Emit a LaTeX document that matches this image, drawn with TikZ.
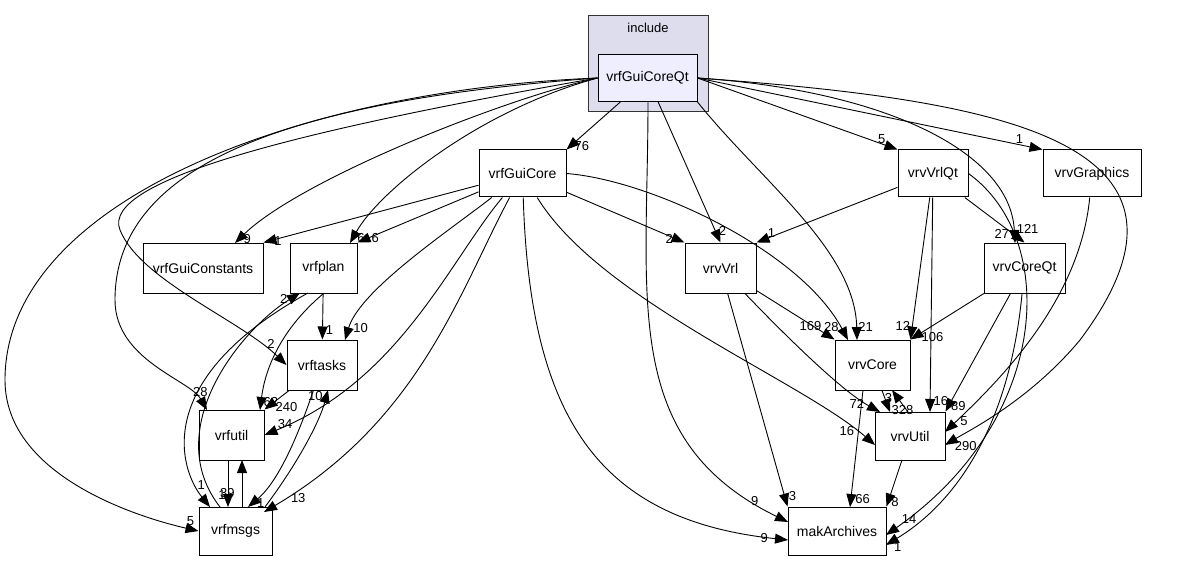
\documentclass[tikz,border=0pt]{standalone}
\usepackage{fontspec}
\setmainfont{Liberation Sans}
\usetikzlibrary{arrows.meta,positioning}
\tikzset{
  dir/.style={draw=black,fill=white,minimum height=47pt,inner sep=3pt,line width=1pt,font=\fontsize{14}{16}\selectfont},
  dep/.style={-{Triangle[length=13pt,width=10pt]},black,line width=0.9pt},
  lab/.style={font=\fontsize{13}{14}\selectfont,inner sep=1pt}
}
\begin{document}
\begin{tikzpicture}[x=1pt,y=-1pt]
\useasboundingbox (0,0) rectangle (1188,588);
% cluster
\draw[fill={rgb,255:red,221;green,221;blue,238},draw=black!80,line width=1pt] (588,16) rectangle (708,112);
\node[font=\fontsize{13}{14}\selectfont] at (648,28) {include};
\node[dir,fill={rgb,255:red,238;green,238;blue,255},minimum width=99pt] (qt) at (647.5,78) {vrfGuiCoreQt};
% nodes
\node[dir,minimum width=87pt] (gui) at (522.5,173.5) {vrfGuiCore};
\node[dir,minimum width=70pt] (vrlqt) at (933,173.5) {vrvVrlQt};
\node[dir,minimum width=98pt] (gfx) at (1092,173.5) {vrvGraphics};
\node[dir,minimum width=120pt,minimum height=50pt] (const) at (203,268) {vrfGuiConstants};
\node[dir,minimum width=67pt,minimum height=50pt] (plan) at (323.5,268) {vrfplan};
\node[dir,minimum width=71pt,minimum height=50pt] (vrl) at (720.5,268) {vrvVrl};
\node[dir,minimum width=81pt,minimum height=50pt] (coreqt) at (1024.5,268) {vrvCoreQt};
\node[dir,minimum width=70pt,minimum height=50pt] (tasks) at (322,365) {vrftasks};
\node[dir,minimum width=75pt,minimum height=50pt] (core) at (872.5,365) {vrvCore};
\node[dir,minimum width=65pt,minimum height=50pt] (util) at (231.5,435) {vrfutil};
\node[dir,minimum width=70pt,minimum height=48pt] (vutil) at (910,436) {vrvUtil};
\node[dir,minimum width=73pt,minimum height=48pt] (msgs) at (235.5,531) {vrfmsgs};
\node[dir,minimum width=98pt,minimum height=48pt] (mak) at (837,531) {makArchives};
% from vrfGuiCoreQt
\draw[dep] (qt) -- (gui.north east) node[lab,pos=0.93,right=3pt] {76};
\draw[dep] (qt.east) -- (vrlqt.north west) node[lab,pos=0.95,above left=1pt] {5};
\draw[dep] (qt.east) -- (gfx.north west) node[lab,pos=0.95,above left=1pt] {1};
\draw[dep] (qt.west) .. controls (500,100) and (300,180) .. (235,243) node[lab,pos=0.98,right=3pt] {9};
\draw[dep] (qt.west) .. controls (480,110) and (380,190) .. (350,243) node[lab,pos=0.97,right=3pt] {6};
\draw[dep] (qt.west) .. controls (300,130) and (100,180) .. (120,230) .. controls (140,280) and (240,320) .. (tasks.west) node[lab,pos=0.9,above=2pt] {2};
\draw[dep] (qt.west) .. controls (300,100) and (115,160) .. (115,300) .. controls (115,360) and (190,380) .. (207,410) node[lab,pos=0.9,above=3pt] {28};
\draw[dep] (qt.west) .. controls (300,90) and (5,200) .. (5,380) .. controls (5,480) and (150,520) .. (msgs.west) node[lab,pos=0.95,above=2pt] {5};
\draw[dep] (qt) -- (vrl.north) node[lab,pos=0.92,right=2pt] {2};
\draw[dep] (qt.south east) .. controls (760,180) and (855,250) .. (857,340) node[lab,pos=0.95,right=1pt] {21};
\draw[dep] (qt.east) .. controls (880,90) and (1010,150) .. (1015,243) node[lab,pos=0.95,right=2pt] {121};
\draw[dep] (qt.east) .. controls (1000,100) and (1230,140) .. (1080,340) .. controls (1030,400) and (970,430) .. (945,445) node[lab,pos=0.9,below right=0pt] {290};
\draw[dep] (648,101) .. controls (648,300) and (620,440) .. (788,522) node[lab,pos=0.94,above left=0pt] {9};
% from vrfGuiCore
\draw[dep] (gui) -- (const.north east) node[lab,pos=0.97,right=3pt] {1};
\draw[dep] (gui) -- (plan.north east) node[lab,pos=0.92,right=3pt] {6};
\draw[dep] (gui) .. controls (450,230) and (360,290) .. (345,340) node[lab,pos=0.92,right=2pt] {10};
\draw[dep] (gui) .. controls (450,260) and (400,380) .. (util.east) node[lab,pos=0.97,above right=0pt] {34};
\draw[dep] (gui) .. controls (460,290) and (420,420) .. (264,512) node[lab,pos=0.95,right=3pt] {13};
\draw[dep] (gui) -- (vrl.north west) node[lab,pos=0.93,left=2pt] {2};
\draw[dep] (gui.east) .. controls (650,180) and (800,250) .. (848,340) node[lab,pos=0.95,left=0pt] {28};
\draw[dep] (gui) .. controls (600,300) and (800,380) .. (875,445) node[lab,pos=0.93,left=2pt] {16};
\draw[dep] (gui) .. controls (530,420) and (600,520) .. (788,540) node[lab,pos=0.97,left=2pt] {9};
% vrvVrlQt
\draw[dep] (vrlqt) -- (vrl.north east) node[lab,pos=0.93,above right=0pt] {1};
\draw[dep] (vrlqt) -- (core.north east) node[lab,pos=0.95,above left=0pt] {12};
\draw[dep] (vrlqt) -- (coreqt.north) node[lab,pos=0.8,left=2pt] {27};
\draw[dep] (vrlqt) -- (930,412) node[lab,pos=0.95,right=2pt] {16};
\draw[dep] (vrlqt.east) .. controls (1060,240) and (1050,420) .. (886,535) node[lab,pos=0.97,above right=0pt] {14};
\draw[dep] (gfx) .. controls (1080,300) and (1000,380) .. (945,432) node[lab,pos=0.93,right=2pt] {5};
% vrvCoreQt
\draw[dep] (coreqt) -- (core.north east) node[lab,pos=0.95,right=6pt] {106};
\draw[dep] (coreqt) -- (vutil.north east) node[lab,pos=0.95,right=1pt] {89};
\draw[dep] (coreqt) .. controls (1010,420) and (960,500) .. (886,545) node[lab,pos=0.97,below right=0pt] {1};
% vrvVrl
\draw[dep] (vrl) -- (core.north west) node[lab,pos=0.85,above left=0pt] {169};
\draw[dep] (vrl) .. controls (780,330) and (840,390) .. (880,412) node[lab,pos=0.9,left=2pt] {72};
\draw[dep] (vrl) -- (mak.north west) node[lab,pos=0.95,right=3pt] {3};
% vrvCore and vrvUtil
\draw[dep] (core) -- (890,412) node[lab,pos=0.9,right=1pt] {328};
\draw[dep] (908,412) -- (892,390) node[lab,pos=0.9,below left=0pt] {3};
\draw[dep] (863,390) -- (850,507) node[lab,pos=0.93,right=3pt] {66};
\draw[dep] (vutil) -- (mak.north east) node[lab,pos=0.9,right=2pt] {8};
% vrf lower part
\draw[dep] (plan) -- (tasks) node[lab,pos=0.8,right=2pt] {1};
\draw[dep] (plan.south) .. controls (280,330) and (265,370) .. (260,410) node[lab,pos=0.93,right=1pt] {62};
\draw[dep] (308,293) .. controls (150,380) and (180,470) .. (210,507) node[lab,pos=0.9,above=3pt] {1};
\draw[dep] (220,507) .. controls (160,430) and (240,330) .. (300,293) node[lab,pos=0.95,left=2pt] {2};
\draw[dep] (tasks) -- (util.north east) node[lab,pos=0.85,right=6pt] {240};
\draw[dep] (tasks) .. controls (300,430) and (280,480) .. (248,507) node[lab,pos=0.95,right=3pt] {1};
\draw[dep] (265,507) .. controls (300,460) and (320,420) .. (328,390) node[lab,pos=0.93,left=2pt] {10};
\draw[dep] (228,460) -- (228,507) node[lab,pos=0.75,left=1pt] {1};
\draw[dep] (242,507) -- (242,460) node[lab,pos=0.3,left=6pt] {39};
\end{tikzpicture}
\end{document}
